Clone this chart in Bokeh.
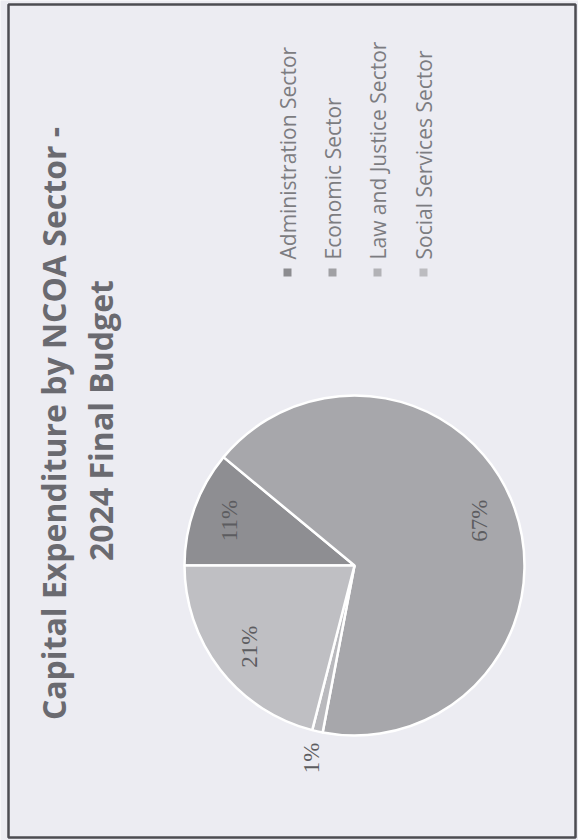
import numpy as np
from bokeh.plotting import figure
from bokeh.models import Range1d, ColumnDataSource
from bokeh.core.properties import value
from bokeh.embed import file_html
from bokeh.resources import INLINE

# ---- data ----
sectors = ["Administration Sector", "Economic Sector", "Law and Justice Sector", "Social Services Sector"]
shares = [11, 67, 1, 21]
colors = ["#8e8e92", "#a7a7ab", "#b9b9bd", "#bfbfc3"]
marker_colors = ["#8c8c90", "#a0a0a4", "#b2b2b6", "#bcbcc0"]
title_lines = ["Capital Expenditure by NCOA Sector -", "2024 Final Budget"]

# ---- layout (screen px, y measured from top) ----
W, H = 578, 840
BG = "#ececf2"
cx, cy, R = 354, 565, 170


def sy(y):
    return H - np.asarray(y, dtype=float)


p = figure(width=W, height=H, x_range=Range1d(0, W), y_range=Range1d(0, H),
           output_backend="svg", toolbar_location=None, min_border=0)
p.axis.visible = False
p.grid.visible = False
p.outline_line_color = None
p.background_fill_color = BG
p.border_fill_color = BG

# frame border
p.quad(left=[8], right=[575], bottom=sy([837]), top=sy([4]), fill_color=None,
       line_color="#4c4c52", line_width=2.5)

# pie (starts at screen-left, runs clockwise)
vals = np.array(shares, dtype=float)
frac = vals / vals.sum()
cum = np.concatenate([[0], np.cumsum(frac)])
start = np.pi - cum[:-1] * 2 * np.pi
end = np.pi - cum[1:] * 2 * np.pi
src = ColumnDataSource(dict(start=start, end=end, color=colors, sector=sectors))
p.wedge(x=cx, y=float(sy(cy)), radius=R, radius_units="screen", start_angle="start",
        end_angle="end", direction="clock", fill_color="color", line_color="white",
        line_width=2.5, source=src)

# data labels
mid = (start + end) / 2
rfac = np.where(frac < 0.03, 1.16, 0.78)
lx = cx + R * rfac * np.cos(mid)
ly = float(sy(cy)) + R * rfac * np.sin(mid)
labels = [f"{v}%" for v in shares]
p.text(x=lx, y=ly, text=labels, angle=np.pi / 2, text_align="center",
       text_baseline="middle", text_font=value("Liberation Serif"),
       text_font_size="23px", text_color="#5c5c60")

# title (rotated)
p.text(x=[53, 100], y=list(sy([423, 420])), text=title_lines, angle=np.pi / 2,
       text_align="center", text_baseline="middle", text_font=value("Open Sans"),
       text_font_style="bold", text_font_size="32px", text_color="#6a6a70")

# legend (rotated)
lgx = [287, 332, 377, 423]
p.rect(x=lgx, y=list(sy([272] * 4)), width=8, height=8, width_units="screen",
       height_units="screen", fill_color=marker_colors, line_color=None)
p.text(x=lgx, y=list(sy([259] * 4)), text=sectors, angle=np.pi / 2, text_align="left",
       text_baseline="middle", text_font=value("Open Sans"), text_font_size="21px",
       text_color="#7c7c81")

open("out.html", "w").write(file_html(p, INLINE))
